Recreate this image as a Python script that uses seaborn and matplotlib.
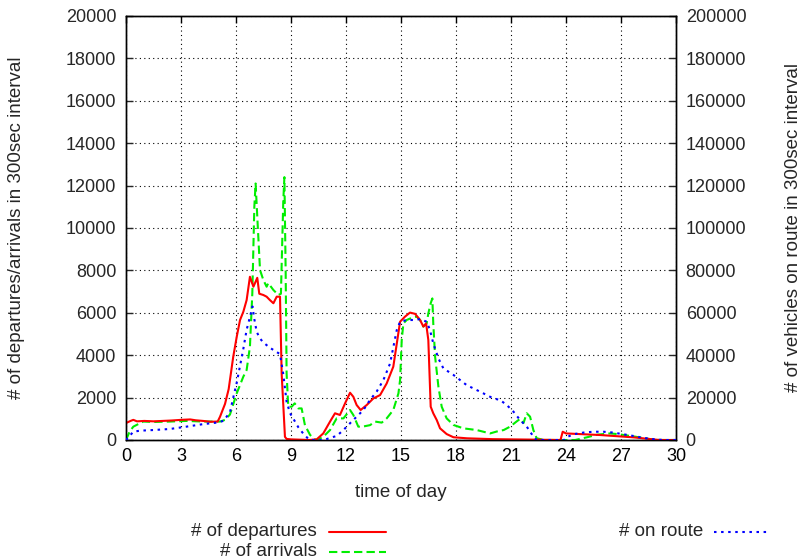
import matplotlib
matplotlib.use("Agg")
import matplotlib.pyplot as plt
from matplotlib.lines import Line2D
import seaborn as sns
import pandas as pd

# --- departures per 300 s interval (left axis) ---
dep_hour = [0.0, 0.25, 0.4, 0.6, 1.0, 1.5, 2.0, 2.5, 3.0, 3.5, 3.8, 4.2, 4.6, 5.0,
            5.13, 5.4, 5.6, 5.85, 6.04, 6.22, 6.4, 6.58, 6.76, 6.95, 7.16, 7.27,
            7.49, 7.67, 7.85, 8.04, 8.22, 8.4, 8.49, 8.67, 8.76, 9.0, 10.0, 10.4,
            10.76, 11.13, 11.4, 11.67, 11.95, 12.22, 12.4, 12.58, 12.8, 13.13,
            13.49, 13.86, 14.22, 14.58, 14.95, 15.22, 15.49, 15.77, 16.04, 16.22,
            16.37, 16.49, 16.62, 16.76, 16.95, 17.13, 17.49, 17.86, 18.6, 20.0,
            22.0, 23.7, 23.82, 24.0, 25.86, 27.68, 29.1, 30.0]
dep_count = [800, 900, 950, 880, 900, 880, 900, 920, 950, 970, 930, 900, 860, 870,
             1100, 1700, 2400, 3930, 4870, 5660, 6050, 6600, 7700, 7230, 7650, 6900,
             6840, 6760, 6600, 6450, 6760, 6760, 3140, 150, 50, 30, 0, 30,
             310, 870, 1260, 1180, 1730, 2230, 2040, 1650, 1415, 1650,
             1960, 2120, 2670, 3460, 5580, 5820, 6010, 5950, 5660, 5350,
             5500, 4720, 1570, 1260, 940, 550, 280, 130, 80, 40,
             20, 0, 390, 310, 235, 125, 0, 0]

# --- arrivals per 300 s interval (left axis) ---
arr_hour = [0.0, 0.2, 0.4, 0.94, 1.5, 2.4, 3.3, 4.2, 5.13, 5.4, 5.67, 6.04, 6.4,
            6.58, 6.76, 6.89, 7.0, 7.07, 7.18, 7.31, 7.49, 7.67, 7.76, 8.04, 8.31,
            8.45, 8.58, 8.64, 8.71, 8.76, 8.85, 9.04, 9.2, 9.4, 9.58, 9.76, 10.04,
            10.3, 10.4, 10.76, 11.13, 11.49, 11.86, 12.22, 12.4, 12.67, 12.9, 13.31,
            13.58, 13.95, 14.22, 14.58, 14.86, 14.95, 15.04, 15.13, 15.31, 15.58,
            15.86, 16.04, 16.22, 16.4, 16.49, 16.62, 16.71, 16.76, 16.86, 17.04,
            17.22, 17.49, 17.86, 18.4, 19.13, 19.86, 20.22, 20.6, 20.95, 21.3,
            21.5, 21.68, 21.86, 22.04, 22.22, 22.4, 22.8, 24.5, 25.13, 25.7, 26.4,
            26.8, 27.68, 28.6, 29.1, 30.0]
arr_count = [0, 400, 630, 870, 850, 870, 900, 870, 870, 950, 1200, 2200, 2990,
             3300, 4400, 6920, 11000, 12100, 10200, 8020, 7550, 7230, 7400, 7075, 6840,
             6900, 11300, 12400, 7860, 3140, 1570, 1570, 1730, 1490, 1490, 700, 240,
             30, 0, 150, 470, 1020, 1020, 1415, 1180, 630, 630, 700,
             870, 820, 1020, 1415, 2200, 2830, 4720, 5500, 5660, 5760,
             5820, 5660, 5350, 5500, 5970, 6450, 6680, 5500, 3930, 2520,
             1570, 1020, 710, 550, 470, 310, 400, 470, 630, 870,
             1000, 800, 1260, 1100, 470, 80, 0, 0, 125, 250, 310,
             280, 170, 40, 0, 0]

# --- vehicles on route (right axis) ---
route_hour = [0.0, 0.4, 0.76, 1.49, 2.4, 3.3, 4.22, 4.95, 5.31, 5.67, 5.85, 6.04,
              6.22, 6.4, 6.58, 6.76, 6.9, 7.0, 7.13, 7.3, 7.49, 7.85, 8.22, 8.4,
              8.58, 8.76, 8.95, 9.13, 9.4, 9.67, 9.95, 10.2, 10.8, 11.13, 11.49,
              11.86, 12.22, 12.58, 12.95, 13.31, 13.67, 14.04, 14.4, 14.77, 14.95,
              15.31, 15.67, 16.04, 16.4, 16.58, 16.76, 17.04, 17.31, 17.86, 18.58,
              19.31, 20.04, 20.4, 20.77, 21.13, 21.5, 21.86, 22.22, 22.4, 23.9,
              24.04, 24.4, 24.95, 25.49, 26.04, 26.58, 27.13, 27.68, 28.22, 28.77,
              29.31, 30.0]
route_count = [0, 3900, 4400, 4700, 5200, 6300, 7500, 8200, 9000, 13000, 20000, 27000,
               35000, 43000, 52000, 58000, 63000, 57000, 51000, 48000, 46000, 43500, 41500, 40500,
               31000, 18000, 12600, 10000, 6000, 3000, 500, 0, 0, 1000, 1900,
               4700, 7900, 11000, 14150, 18900, 22800, 28300, 36000, 51900, 55800,
               56600, 56600, 57000, 55800, 51900, 45600, 38500, 33800, 30700, 25900,
               22800, 19600, 18900, 16500, 13400, 9400, 6300, 1600, 0, 0,
               1300, 2700, 3500, 3900, 3900, 3500, 2700, 1900, 1000, 400,
               0, 0]

x_ticks = list(range(0, 31, 3))
left_ticks = list(range(0, 20001, 2000))
right_ticks = list(range(0, 200001, 20000))

sns.set_theme(style="white")
plt.rcParams["font.family"] = ["Liberation Sans", "DejaVu Sans"]

FS = 13.5
TICK_FS = 13

fig = plt.figure(figsize=(8.04, 5.6), dpi=100)
ax = fig.add_axes([126 / 804, 1 - 440 / 560, 550 / 804, 424 / 560])
ax2 = ax.twinx()

dep = pd.DataFrame({"hour": dep_hour, "count": dep_count})
arr = pd.DataFrame({"hour": arr_hour, "count": arr_count})
route = pd.DataFrame({"hour": route_hour, "count": route_count})

RED, GREEN, BLUE = "#ff0000", "#00ee00", "#0000ff"
LW = 1.5
ARR_DASH = (4, 2)
ROUTE_DASH = (1.2, 2.2)

sns.lineplot(data=dep, x="hour", y="count", ax=ax, color=RED, lw=LW, zorder=4)
sns.lineplot(data=arr, x="hour", y="count", ax=ax, color=GREEN, lw=LW, zorder=3)
sns.lineplot(data=route, x="hour", y="count", ax=ax2, color=BLUE, lw=LW, zorder=3)
dep_line, arr_line = ax.get_lines()[0], ax.get_lines()[1]
route_line = ax2.get_lines()[0]
arr_line.set_dashes(ARR_DASH)
route_line.set_dashes(ROUTE_DASH)

ax.set_xlim(0, 30)
ax.set_ylim(0, 20000)
ax2.set_ylim(0, 200000)
ax.set_xticks(x_ticks)
ax.set_yticks(left_ticks)
ax2.set_yticks(right_ticks)

ax.grid(True, color="black", linestyle=(0, (1, 3)), linewidth=0.8)
ax.set_axisbelow(True)

ax.tick_params(axis="x", direction="in", top=True, length=5, width=1, colors="black",
               labelsize=TICK_FS, pad=6)
ax.tick_params(axis="y", direction="in", left=True, right=False, length=5, width=1,
               labelsize=TICK_FS, pad=7)
ax2.tick_params(axis="y", direction="in", right=True, length=5, width=1,
                labelsize=TICK_FS, pad=7)
for a in (ax, ax2):
    for s in a.spines.values():
        s.set_color("black")
        s.set_linewidth(1.0)

ax.set_xlabel("time of day", fontsize=FS)
ax.set_ylabel("# of departures/arrivals in 300sec interval", fontsize=FS)
ax2.set_ylabel("# of vehicles on route in 300sec interval", fontsize=FS)
ax.xaxis.set_label_coords(0.5, -0.104)
ax.yaxis.set_label_coords(-0.184, 0.5)
ax2.yaxis.set_label_coords(1.198, 0.5)

# key below the plot: label on the left, line sample on the right
key = [("# of departures", RED, None, 532, 317, 329, 386),
       ("# of arrivals", GREEN, ARR_DASH, 552, 317, 329, 386),
       ("# on route", BLUE, ROUTE_DASH, 532, 703, 714, 769)]
for text, color, dash, ypx, tx, x0, x1 in key:
    yf = 1 - ypx / 560
    fig.text(tx / 804, yf, text, ha="right", va="center", fontsize=FS)
    ln = Line2D([x0 / 804, x1 / 804], [yf, yf], transform=fig.transFigure,
                color=color, lw=LW)
    if dash is not None:
        ln.set_dashes(dash)
    fig.add_artist(ln)

fig.savefig("out.png", dpi=100)
